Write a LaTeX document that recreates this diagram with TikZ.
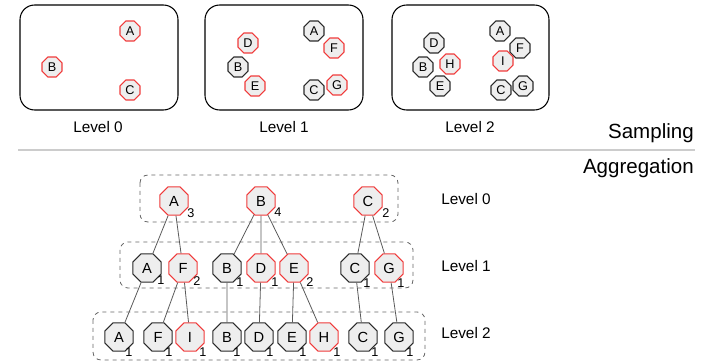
\documentclass[tikz,border=0pt]{standalone}
\usepackage{fontspec}
\setmainfont{Liberation Sans}
\usetikzlibrary{shapes.geometric,calc}
\definecolor{octred}{HTML}{F03A3A}
\definecolor{octblk}{HTML}{2A2A2A}
\definecolor{octfill}{HTML}{EEEEEE}
\definecolor{edgegray}{HTML}{5A5A5A}
\definecolor{dashgray}{HTML}{666666}
\definecolor{sepgray}{HTML}{CCCCCC}
\tikzset{
  oct/.style={regular polygon, regular polygon sides=8, fill=octfill, inner sep=0pt, line width=0.8pt},
  small/.style={oct, minimum size=16.2pt, font=\fontsize{9.5}{11}\selectfont},
  big/.style={oct, minimum size=23pt, font=\fontsize{11}{13}\selectfont},
  rd/.style={draw=octred},
  bk/.style={draw=octblk},
  cnt/.style={inner sep=0pt, font=\fontsize{9.5}{11}\selectfont},
  frame/.style={draw=black, line width=0.8pt, rounded corners=11pt},
  dbox/.style={draw=dashgray, dashed, line width=0.6pt, rounded corners=6pt},
  lvl/.style={inner sep=0pt, font=\fontsize{11.5}{13}\selectfont},
  ttl/.style={inner sep=0pt, font=\fontsize{15.4}{18}\selectfont},
  edge/.style={draw=edgegray, line width=0.6pt}
}
\newcommand\agg[7]{\node[big,#5] (#1) at (#2,#3) {#4}; \node[cnt] (#1c) at ($(#1)+#7$) {#6};}
\begin{document}
\begin{tikzpicture}[x=0.75pt,y=-0.75pt]
\useasboundingbox (0,0) rectangle (722,363);
% Sampling frames
\draw[frame] (20,5) rectangle (178,110);
\draw[frame] (205,5) rectangle (363,110);
\draw[frame] (392,5) rectangle (549,110);
\node[lvl] (sl0) at (98,127) {Level 0};
\node[lvl] (sl1) at (284,127) {Level 1};
\node[lvl] (sl2) at (470,127) {Level 2};
% Level 0 sample
\node[small,rd] (s0a) at (130,31) {A};
\node[small,rd] (s0b) at (52,67) {B};
\node[small,rd] (s0c) at (130,90) {C};
% Level 1 sample
\node[small,rd] (s1d) at (248,43) {D};
\node[small,bk] (s1b) at (238,67) {B};
\node[small,rd] (s1e) at (255,86) {E};
\node[small,bk] (s1a) at (314,31) {A};
\node[small,rd] (s1f) at (334,48) {F};
\node[small,bk] (s1c) at (314,90) {C};
\node[small,rd] (s1g) at (337,85) {G};
% Level 2 sample
\node[small,bk] (s2d) at (434,43) {D};
\node[small,bk] (s2b) at (423,67) {B};
\node[small,rd] (s2h) at (450,64) {H};
\node[small,bk] (s2e) at (440,86) {E};
\node[small,bk] (s2a) at (500,31) {A};
\node[small,bk] (s2f) at (520,48) {F};
\node[small,rd] (s2i) at (503,61) {I};
\node[small,bk] (s2c) at (501,90) {C};
\node[small,bk] (s2g) at (523,86) {G};
% separator
\node[ttl,anchor=east] (samp) at (694,133) {Sampling};
\coordinate (sepL) at (18,150);
\coordinate (sepR) at (695,150);
\draw[sepgray, line width=0.8pt] (sepL) -- (sepR);
\node[ttl,anchor=east] (aggr) at (694,168) {Aggregation};
% Aggregation boxes
\draw[dbox] (140,175) rectangle (398,222);
\draw[dbox] (120,242) rectangle (413,288);
\draw[dbox] (93,312) rectangle (425,360);
\node[lvl] (al0) at (466,199) {Level 0};
\node[lvl] (al1) at (466,266) {Level 1};
\node[lvl] (al2) at (466,333) {Level 2};
% Level 0
\agg{a0}{174}{201}{A}{rd}{3}{(17,12)}
\agg{b0}{261}{201}{B}{rd}{4}{(17,11)}
\agg{c0}{368}{201}{C}{rd}{2}{(18,12)}
% Level 1
\agg{a1}{147}{268}{A}{bk}{1}{(14,12)}
\agg{f1}{183}{268}{F}{rd}{2}{(14,13)}
\agg{b1}{227}{268}{B}{bk}{1}{(13,14)}
\agg{d1}{261}{268}{D}{rd}{1}{(14,14)}
\agg{e1}{294}{268}{E}{rd}{2}{(16,14)}
\agg{c1}{355}{268}{C}{bk}{1}{(12,15)}
\agg{g1}{389}{268}{G}{rd}{1}{(12,15)}
% Level 2
\agg{a2}{119}{337}{A}{bk}{1}{(10,15)}
\agg{f2}{158}{337}{F}{bk}{1}{(11,15)}
\agg{i2}{190}{337}{I}{rd}{1}{(13,15)}
\agg{b2}{227}{337}{B}{bk}{1}{(10,15)}
\agg{d2}{259}{337}{D}{bk}{1}{(11,15)}
\agg{e2}{292}{337}{E}{bk}{1}{(11,15)}
\agg{h2}{324}{337}{H}{rd}{1}{(13,15)}
\agg{c2}{363}{337}{C}{bk}{1}{(12,15)}
\agg{g2}{399}{337}{G}{bk}{1}{(11,15)}
% Edges
\draw[edge] (a0) -- (a1);
\draw[edge] (a0) -- (f1);
\draw[edge] (b0) -- (b1);
\draw[edge] (b0) -- (d1);
\draw[edge] (b0) -- (e1);
\draw[edge] (c0) -- (c1);
\draw[edge] (c0) -- (g1);
\draw[edge] (a1) -- (a2);
\draw[edge] (f1) -- (f2);
\draw[edge] (f1) -- (i2);
\draw[edge] (b1) -- (b2);
\draw[edge] (d1) -- (d2);
\draw[edge] (e1) -- (e2);
\draw[edge] (e1) -- (h2);
\draw[edge] (c1) -- (c2);
\draw[edge] (g1) -- (g2);
\end{tikzpicture}
\end{document}
